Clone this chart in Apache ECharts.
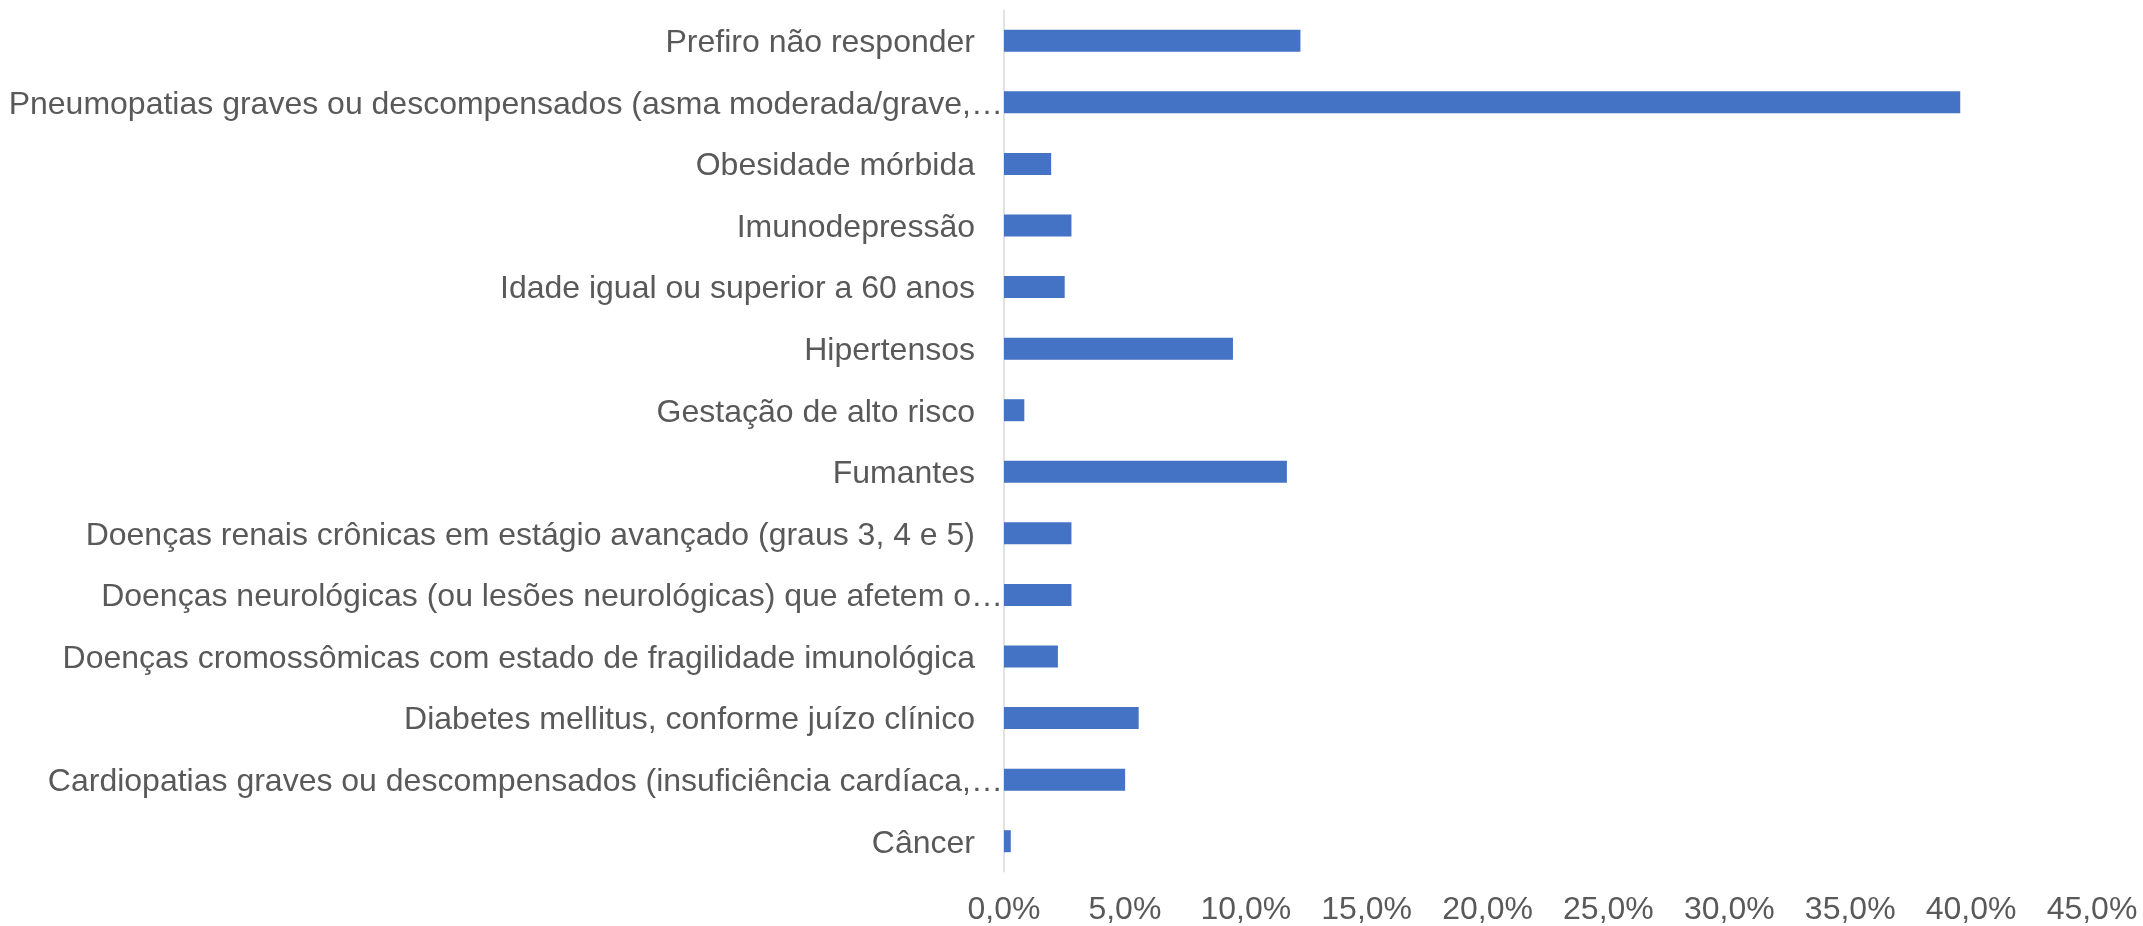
<!DOCTYPE html>
<html>
<head>
<meta charset="utf-8">
<script src="https://cdn.jsdelivr.net/npm/echarts@6/dist/echarts.min.js"></script>
<style>
html,body{margin:0;padding:0;background:#fff;}
#chart{width:2143px;height:926px;}
</style>
</head>
<body>
<div id="chart"></div>
<script>
const categories = [
  "Câncer",
  "Cardiopatias graves ou descompensados (insuficiência cardíaca,…",
  "Diabetes mellitus, conforme juízo clínico",
  "Doenças cromossômicas com estado de fragilidade imunológica",
  "Doenças neurológicas (ou lesões neurológicas) que afetem o…",
  "Doenças renais crônicas em estágio avançado (graus 3, 4 e 5)",
  "Fumantes",
  "Gestação de alto risco",
  "Hipertensos",
  "Idade igual ou superior a 60 anos",
  "Imunodepressão",
  "Obesidade mórbida",
  "Pneumopatias graves ou descompensados (asma moderada/grave,…",
  "Prefiro não responder"
];
const values = [0.28, 5.01, 5.57, 2.23, 2.79, 2.79, 11.70, 0.84, 9.47, 2.51, 2.79, 1.95, 39.55, 12.26];
const xTicks = { min: 0, max: 45, interval: 5 };

const chart = echarts.init(document.getElementById('chart'));
const FONT = "'Liberation Sans', Arial, sans-serif";
const FS = 32;
chart.setOption({
  animation: false,
  backgroundColor: '#ffffff',
  grid: { left: 1004, right: 51, top: 10, bottom: 53, containLabel: false },
  xAxis: {
    type: 'value',
    min: xTicks.min, max: xTicks.max, interval: xTicks.interval,
    axisLine: { show: false },
    axisTick: { show: false },
    splitLine: { show: false },
    axisLabel: {
      color: '#595959', fontSize: FS, fontFamily: FONT, margin: 22,
      formatter: v => v.toFixed(1).replace('.', ',') + '%'
    }
  },
  yAxis: {
    type: 'category',
    data: categories,
    axisLine: { show: true, lineStyle: { color: '#D9D9D9', width: 1.5 } },
    axisTick: { show: false },
    axisLabel: {
      color: '#595959', fontSize: FS, fontFamily: FONT, margin: 1,
      formatter: v => v.endsWith('…') ? '{e|' + v + '}' : '{n|' + v + '}',
      rich: {
        n: { color: '#595959', fontSize: FS, fontFamily: FONT, padding: [5, 28, 0, 0] },
        e: { color: '#595959', fontSize: FS, fontFamily: FONT, padding: [5, 0, 0, 0] }
      }
    }
  },
  series: [{
    type: 'bar',
    data: values,
    barWidth: 22,
    itemStyle: { color: '#4472C4' }
  }]
});
</script>
</body>
</html>
